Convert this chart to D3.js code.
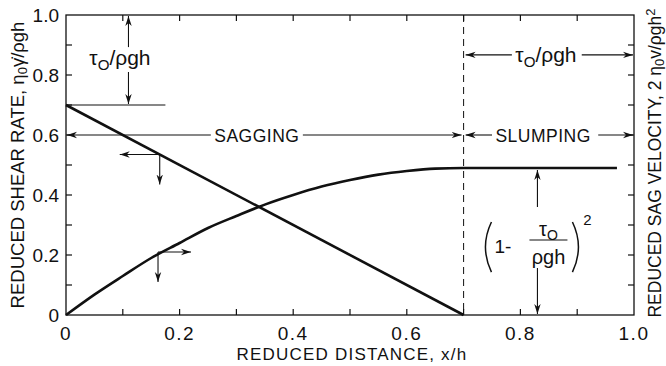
<!DOCTYPE html>
<html>
<head>
<meta charset="utf-8">
<title>Sagging and slumping</title>
<script src="https://cdn.jsdelivr.net/npm/d3@7"></script>
<style>
  body { margin: 0; background: #fff; }
  text { font-family: "Liberation Sans", Arial, sans-serif; fill: #111; }
</style>
</head>
<body>
<script>
// values
const xTicks = [0, 0.2, 0.4, 0.6, 0.8, 1.0];
const xTickLabels = ['0', '0.2', '0.4', '0.6', '0.8', '1.0'];
const yTicks = [0, 0.2, 0.4, 0.6, 0.8, 1.0];
const yTickLabels = ['0', '0.2', '0.4', '0.6', '0.8', '1.0'];
const minorTicks = [0.1, 0.2, 0.3, 0.4, 0.5, 0.6, 0.7, 0.8, 0.9];

// reduced shear rate (straight line, left axis)
const shearX = [0, 0.7];
const shearY = [0.7, 0];

// reduced sag velocity (right axis)
const sagX = [0, 0.05, 0.1, 0.15, 0.2, 0.25, 0.3, 0.35, 0.4, 0.45, 0.5, 0.55, 0.6, 0.65, 0.7, 0.8, 0.9, 0.97];
const sagY = [0, 0.068, 0.13, 0.19, 0.24, 0.29, 0.33, 0.368, 0.40, 0.428, 0.45, 0.468, 0.48, 0.488, 0.49, 0.49, 0.49, 0.49];

const yieldX = 0.7; // boundary sagging / slumping

const width = 666, height = 366;
const margin = {left: 66, right: 32, top: 15, bottom: 51};

const svg = d3.select('body').append('svg')
    .attr('width', width)
    .attr('height', height);

const x = d3.scaleLinear().domain([0, 1]).range([margin.left, width - margin.right]);
const y = d3.scaleLinear().domain([0, 1]).range([height - margin.bottom, margin.top]);

const defs = svg.append('defs');
defs.append('marker')
    .attr('id', 'arr')
    .attr('viewBox', '0 -4 10 8')
    .attr('refX', 10).attr('refY', 0)
    .attr('markerWidth', 10).attr('markerHeight', 8)
    .attr('markerUnits', 'userSpaceOnUse')
    .attr('orient', 'auto')
    .append('path')
    .attr('d', 'M0,-3.2L10,0L0,3.2L3,0Z')
    .attr('fill', '#111');

// frame
const x0 = x(0), x1 = x(1), y0 = y(0), y1 = y(1);
svg.append('rect')
    .attr('x', x0).attr('y', y1)
    .attr('width', x1 - x0).attr('height', y0 - y1)
    .attr('fill', 'none').attr('stroke', '#111').attr('stroke-width', 1.3);

// ticks, all pointing inward
const tk = 6;
const ticks = svg.append('g').attr('stroke', '#111').attr('stroke-width', 1.2);
minorTicks.forEach(t => {
    ticks.append('line').attr('x1', x(t)).attr('x2', x(t)).attr('y1', y0).attr('y2', y0 - tk);
    ticks.append('line').attr('x1', x(t)).attr('x2', x(t)).attr('y1', y1).attr('y2', y1 + tk);
    ticks.append('line').attr('x1', x0).attr('x2', x0 + tk).attr('y1', y(t)).attr('y2', y(t));
    ticks.append('line').attr('x1', x1).attr('x2', x1 - tk).attr('y1', y(t)).attr('y2', y(t));
});

// tick labels
svg.append('g').selectAll('text')
    .data(xTicks).join('text')
    .attr('x', d => x(d)).attr('y', y0 + 25)
    .attr('text-anchor', 'middle')
    .attr('font-size', 19).attr('letter-spacing', 1.5)
    .text((d, i) => xTickLabels[i]);

svg.append('g').selectAll('text')
    .data(yTicks).join('text')
    .attr('x', x0 - 7).attr('y', d => y(d) + 7)
    .attr('text-anchor', 'end')
    .attr('font-size', 19)
    .text((d, i) => yTickLabels[i]);

// axis titles
svg.append('text')
    .attr('x', 352).attr('y', 360)
    .attr('text-anchor', 'middle').attr('font-size', 17).attr('letter-spacing', 1.2)
    .text('REDUCED DISTANCE, x/h');

const lt = svg.append('text')
    .attr('transform', `translate(24,${(y0 + y1) / 2}) rotate(-90)`)
    .attr('text-anchor', 'middle').attr('font-size', 18.5);
lt.append('tspan').text('REDUCED SHEAR RATE, η');
lt.append('tspan').attr('baseline-shift', '-25%').attr('font-size', 13).text('0');
lt.append('tspan').text('γ̇/ρgh');

const rt = svg.append('text')
    .attr('transform', `translate(661,${(y0 + y1) / 2 - 2}) rotate(-90)`)
    .attr('text-anchor', 'middle').attr('font-size', 17.5);
rt.append('tspan').text('REDUCED SAG VELOCITY, 2 η');
rt.append('tspan').attr('baseline-shift', '-25%').attr('font-size', 13).text('0');
rt.append('tspan').text('v/ρgh');
rt.append('tspan').attr('baseline-shift', '45%').attr('font-size', 13).text('2');

// dashed boundary
svg.append('line')
    .attr('x1', x(yieldX)).attr('x2', x(yieldX))
    .attr('y1', y1).attr('y2', y0)
    .attr('stroke', '#111').attr('stroke-width', 1)
    .attr('stroke-dasharray', '7,5');

// data lines
const line = d3.line().x(d => x(d[0])).y(d => y(d[1]));
svg.append('path')
    .attr('d', line(shearX.map((v, i) => [v, shearY[i]])))
    .attr('fill', 'none').attr('stroke', '#111').attr('stroke-width', 2.6);
svg.append('path')
    .attr('d', line.curve(d3.curveMonotoneX)(sagX.map((v, i) => [v, sagY[i]])))
    .attr('fill', 'none').attr('stroke', '#111').attr('stroke-width', 2.6);

// annotations
const ann = svg.append('g').attr('stroke', '#111').attr('stroke-width', 1.1).attr('fill', 'none');
function seg(ax, ay, bx, by, arrow) {
    const l = ann.append('line').attr('x1', ax).attr('y1', ay).attr('x2', bx).attr('y2', by);
    if (arrow) l.attr('marker-end', 'url(#arr)');
}
function tau(px, py, size) {
    const t = svg.append('text').attr('x', px).attr('y', py)
        .attr('text-anchor', 'middle').attr('font-size', size);
    t.append('tspan').text('τ');
    t.append('tspan').attr('baseline-shift', '-30%').attr('font-size', size * 0.72).text('O');
    t.append('tspan').text('/ρgh');
}

// top-left yield stress dimension
const ax1 = x(0.11);
seg(x0, y(0.7), x(0.175), y(0.7));
seg(ax1, y(0.893), ax1, y1 + 1, true);
seg(ax1, y(0.81), ax1, y(0.7) - 1, true);
tau(x(0.095), y(0.835), 21);

// sagging / slumping band
const yb = y(0.6);
seg(x(0.255), yb, x0 + 1, yb, true);
svg.append('text').attr('x', x(0.336)).attr('y', yb + 6.5)
    .attr('text-anchor', 'middle').attr('font-size', 17.5).attr('letter-spacing', 0.5).text('SAGGING');
seg(x(0.417), yb, x(yieldX) - 2, yb, true);
seg(x(0.75), yb, x(yieldX) + 2, yb, true);
svg.append('text').attr('x', x(0.84)).attr('y', yb + 6.5)
    .attr('text-anchor', 'middle').attr('font-size', 17.5).attr('letter-spacing', 0.5).text('SLUMPING');
seg(x(0.937), yb, x1 - 1, yb, true);

// top-right dimension
const yt = y(0.867);
seg(x(0.785), yt, x(yieldX) + 2, yt, true);
seg(x(0.908), yt, x1 - 1, yt, true);
tau(x(0.845), yt + 7, 21);

// small direction arrows on the curves
const p1 = [x(0.165), y(0.535)];
seg(p1[0], p1[1], p1[0] - 40, p1[1], true);
seg(p1[0], p1[1], p1[0], p1[1] + 30, true);
const p2 = [x(0.162), y(0.21)];
seg(p2[0], p2[1], p2[0] + 33, p2[1], true);
seg(p2[0], p2[1], p2[0], p2[1] + 30, true);

// plateau dimension (1 - tau0/rho g h)^2
const xp = x(0.83);
seg(xp, y(0.36), xp, y(0.49) + 2, true);
seg(xp, y(0.157), xp, y0 - 1, true);
const pTop = y(0.31), pBot = y(0.143);
ann.append('path').attr('stroke-width', 1.5)
    .attr('d', `M${xp - 46},${pTop} Q${xp - 58},${(pTop + pBot) / 2} ${xp - 46},${pBot}`);
ann.append('path').attr('stroke-width', 1.5)
    .attr('d', `M${xp + 35},${pTop} Q${xp + 47},${(pTop + pBot) / 2} ${xp + 35},${pBot}`);
svg.append('text').attr('x', xp - 43).attr('y', y(0.2) - 2).attr('font-size', 19)
    .text('1-');
seg(xp - 8, y(0.25), xp + 30, y(0.25));
const num = svg.append('text').attr('x', xp + 11).attr('y', y(0.265))
    .attr('text-anchor', 'middle').attr('font-size', 20);
num.append('tspan').text('τ');
num.append('tspan').attr('baseline-shift', '-30%').attr('font-size', 14).text('O');
svg.append('text').attr('x', xp + 11).attr('y', y(0.17))
    .attr('text-anchor', 'middle').attr('font-size', 20).text('ρgh');
svg.append('text').attr('x', xp + 50).attr('y', y(0.3))
    .attr('text-anchor', 'middle').attr('font-size', 15).text('2');
</script>
</body>
</html>
